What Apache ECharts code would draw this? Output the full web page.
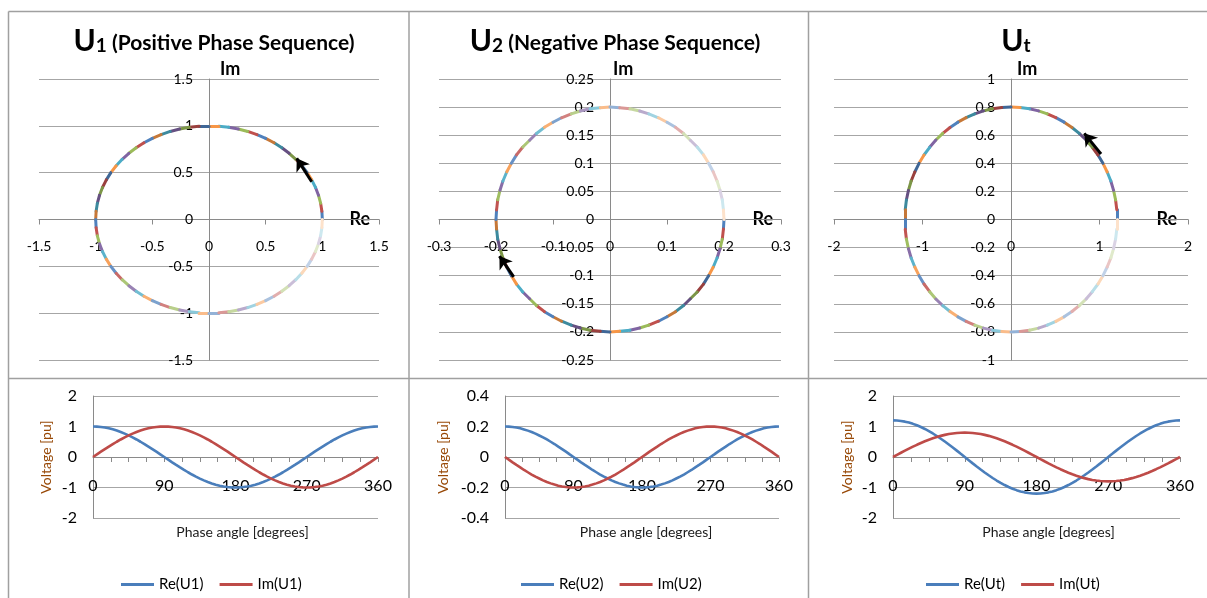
<!DOCTYPE html>
<html><head><meta charset="utf-8">
<script src="https://cdn.jsdelivr.net/npm/echarts@6/dist/echarts.min.js"></script>
<style>html,body{margin:0;padding:0;background:#fff}#c{width:1207px;height:598px}</style>
</head><body><div id="c"></div>
<script>
// ---- data ----
const angles = [0,5,10,15,20,25,30,35,40,45,50,55,60,65,70,75,80,85,90,
 95,100,105,110,115,120,125,130,135,140,145,150,155,160,165,170,175,180,
 185,190,195,200,205,210,215,220,225,230,235,240,245,250,255,260,265,270,
 275,280,285,290,295,300,305,310,315,320,325,330,335,340,345,350,355,360];

const reU1 = [1,0.996,0.985,0.966,0.94,0.906,0.866,0.819,0.766,0.707,0.643,0.574,0.5,0.423,0.342,0.259,0.174,0.087,0,
 -0.087,-0.174,-0.259,-0.342,-0.423,-0.5,-0.574,-0.643,-0.707,-0.766,-0.819,-0.866,-0.906,-0.94,-0.966,-0.985,-0.996,-1,
 -0.996,-0.985,-0.966,-0.94,-0.906,-0.866,-0.819,-0.766,-0.707,-0.643,-0.574,-0.5,-0.423,-0.342,-0.259,-0.174,-0.087,0,
 0.087,0.174,0.259,0.342,0.423,0.5,0.574,0.643,0.707,0.766,0.819,0.866,0.906,0.94,0.966,0.985,0.996,1];
const imU1 = [0,0.087,0.174,0.259,0.342,0.423,0.5,0.574,0.643,0.707,0.766,0.819,0.866,0.906,0.94,0.966,0.985,0.996,1,
 0.996,0.985,0.966,0.94,0.906,0.866,0.819,0.766,0.707,0.643,0.574,0.5,0.423,0.342,0.259,0.174,0.087,0,
 -0.087,-0.174,-0.259,-0.342,-0.423,-0.5,-0.574,-0.643,-0.707,-0.766,-0.819,-0.866,-0.906,-0.94,-0.966,-0.985,-0.996,-1,
 -0.996,-0.985,-0.966,-0.94,-0.906,-0.866,-0.819,-0.766,-0.707,-0.643,-0.574,-0.5,-0.423,-0.342,-0.259,-0.174,-0.087,0];

const reU2 = [0.2,0.199,0.197,0.193,0.188,0.181,0.173,0.164,0.153,0.141,0.129,0.115,0.1,0.085,0.068,0.052,0.035,0.017,0,
 -0.017,-0.035,-0.052,-0.068,-0.085,-0.1,-0.115,-0.129,-0.141,-0.153,-0.164,-0.173,-0.181,-0.188,-0.193,-0.197,-0.199,-0.2,
 -0.199,-0.197,-0.193,-0.188,-0.181,-0.173,-0.164,-0.153,-0.141,-0.129,-0.115,-0.1,-0.085,-0.068,-0.052,-0.035,-0.017,0,
 0.017,0.035,0.052,0.068,0.085,0.1,0.115,0.129,0.141,0.153,0.164,0.173,0.181,0.188,0.193,0.197,0.199,0.2];
const imU2 = [0,-0.017,-0.035,-0.052,-0.068,-0.085,-0.1,-0.115,-0.129,-0.141,-0.153,-0.164,-0.173,-0.181,-0.188,-0.193,-0.197,-0.199,-0.2,
 -0.199,-0.197,-0.193,-0.188,-0.181,-0.173,-0.164,-0.153,-0.141,-0.129,-0.115,-0.1,-0.085,-0.068,-0.052,-0.035,-0.017,0,
 0.017,0.035,0.052,0.068,0.085,0.1,0.115,0.129,0.141,0.153,0.164,0.173,0.181,0.188,0.193,0.197,0.199,0.2,
 0.199,0.197,0.193,0.188,0.181,0.173,0.164,0.153,0.141,0.129,0.115,0.1,0.085,0.068,0.052,0.035,0.017,0];

const reUt = [1.2,1.195,1.182,1.159,1.128,1.087,1.039,0.983,0.919,0.849,0.771,0.689,0.6,0.507,0.41,0.311,0.209,0.104,0,
 -0.104,-0.209,-0.311,-0.41,-0.507,-0.6,-0.689,-0.771,-0.849,-0.919,-0.983,-1.039,-1.087,-1.128,-1.159,-1.182,-1.195,-1.2,
 -1.195,-1.182,-1.159,-1.128,-1.087,-1.039,-0.983,-0.919,-0.849,-0.771,-0.689,-0.6,-0.507,-0.41,-0.311,-0.209,-0.104,0,
 0.104,0.209,0.311,0.41,0.507,0.6,0.689,0.771,0.849,0.919,0.983,1.039,1.087,1.128,1.159,1.182,1.195,1.2];
const imUt = [0,0.07,0.139,0.207,0.274,0.338,0.4,0.459,0.514,0.566,0.613,0.655,0.693,0.725,0.752,0.773,0.788,0.797,0.8,
 0.797,0.788,0.773,0.752,0.725,0.693,0.655,0.613,0.566,0.514,0.459,0.4,0.338,0.274,0.207,0.139,0.07,0,
 -0.07,-0.139,-0.207,-0.274,-0.338,-0.4,-0.459,-0.514,-0.566,-0.613,-0.655,-0.693,-0.725,-0.752,-0.773,-0.788,-0.797,-0.8,
 -0.797,-0.788,-0.773,-0.752,-0.725,-0.693,-0.655,-0.613,-0.566,-0.514,-0.459,-0.4,-0.338,-0.274,-0.207,-0.139,-0.07,0];

// rotation arrows (tail, head) in data units
const arrowU1 = [[0.906,0.403],[0.774,0.653]];
const arrowU2 = [[-0.169,-0.102],[-0.194,-0.065]];
const arrowUt = [[1.017,0.466],[0.828,0.613]];

const seriesNames = [['Re(U1)','Im(U1)'],['Re(U2)','Im(U2)'],['Re(Ut)','Im(Ut)']];
const titleSubs = ['1','2','t'];
const titleRests = [' (Positive Phase Sequence)',' (Negative Phase Sequence)',''];

// ---- styling ----
const FONT = 'Lato, "Open Sans", sans-serif';
const base = ['#4F81BD','#C0504D','#9BBB59','#8064A2','#4BACC6','#F79646'];
function shade(h, t){
  const n = parseInt(h.slice(1),16);
  const c = [n>>16&255, n>>8&255, n&255].map(v => t>=0 ? Math.round(v+(255-v)*t) : Math.round(v*(1+t)));
  return 'rgb('+c.join(',')+')';
}
function segColor(i, n){
  const f = i/n;
  const t = f < 0.5 ? ((Math.floor(i/6)%2) ? -0.2 : 0) : Math.min(0.72, (f-0.5)*1.55);
  return shade(base[i%6], t);
}
function segments(re, im){
  const out = [];
  for (let i=0;i<re.length-1;i++){
    out.push({coords:[[re[i],im[i]],[re[i+1],im[i+1]]], lineStyle:{color:segColor(i, re.length-1)}});
  }
  return out;
}

const panels = [
  {re:reU1, im:imU1, arrow:arrowU1, x:[-1.5,1.5,0.5], y:[-1.5,1.5,0.5], by:[-2,2,1],
   grid:{left:39,top:79,width:340,height:281}, bgrid:{left:93,top:396,width:285,height:122},
   imPad:11, reGap:-9, rePadB:19, vGap:40, xnPad:14, legLeft:116},
  {re:reU2, im:imU2, arrow:arrowU2, x:[-0.3,0.3,0.1], y:[-0.25,0.25,0.05], by:[-0.4,0.4,0.2],
   grid:{left:439,top:79,width:342,height:281}, bgrid:{left:505,top:396,width:274,height:122},
   imPad:3, reGap:-8, rePadB:23, vGap:55, xnPad:8, legLeft:516},
  {re:reUt, im:imUt, arrow:arrowUt, x:[-2,2,1], y:[-1,1,0.2], by:[-2,2,1],
   grid:{left:834,top:79,width:354,height:281}, bgrid:{left:893,top:396,width:287,height:122},
   imPad:6, reGap:-11, rePadB:9, vGap:39, xnPad:24, legLeft:921}
];

const AXIS = '#8a8a8a', GRIDC = '#a6a6a6';
const grid=[], xAxis=[], yAxis=[], series=[], legend=[], title=[];

panels.forEach((p, k) => {
  const gi = grid.length;
  grid.push(p.grid);
  // axes cross at the origin (middle of the plot): shift each axis inward
  xAxis.push({gridIndex:gi, type:'value', min:p.x[0], max:p.x[1], interval:p.x[2],
    position:'bottom', offset:-p.grid.height/2,
    name:'Re', nameLocation:'end', nameGap:p.reGap,
    nameTextStyle:{fontFamily:FONT, fontWeight:'bold', fontSize:18, color:'#000', align:'right', verticalAlign:'middle', padding:[0,0,p.rePadB,0]},
    axisLine:{onZero:false, lineStyle:{color:AXIS, width:1}},
    axisTick:{show:true, length:5, lineStyle:{color:AXIS}},
    splitLine:{show:false},
    axisLabel:{fontFamily:FONT, fontSize:14, color:'#000', margin:20}});
  yAxis.push({gridIndex:gi, type:'value', min:p.y[0], max:p.y[1], interval:p.y[2],
    position:'left', offset:-p.grid.width/2,
    name:'Im', nameLocation:'end', nameGap:1,
    nameTextStyle:{fontFamily:FONT, fontWeight:'bold', fontSize:18, color:'#000', align:'left', verticalAlign:'bottom', padding:[0,0,0,p.imPad]},
    axisLine:{onZero:false, lineStyle:{color:AXIS, width:1}},
    axisTick:{show:false},
    splitLine:{show:true, lineStyle:{color:GRIDC, width:1}},
    axisLabel:{fontFamily:FONT, fontSize:14, color:'#000', margin:16}});
  series.push({type:'lines', coordinateSystem:'cartesian2d', xAxisIndex:gi, yAxisIndex:gi, silent:true,
    lineStyle:{width:3, opacity:1, cap:'round'}, data:segments(p.re, p.im), z:3});
  series.push({type:'lines', coordinateSystem:'cartesian2d', xAxisIndex:gi, yAxisIndex:gi, silent:true,
    symbol:['none','arrow'], symbolSize:12,
    lineStyle:{width:3, color:'#000', opacity:1}, data:[{coords:p.arrow}], z:4});
  title.push({text:'{u|U}{s|'+titleSubs[k]+'}{r|'+titleRests[k]+'}', left:p.grid.left+p.grid.width/2, top:21, textAlign:'center',
    textStyle:{rich:{
      u:{fontFamily:FONT, fontWeight:'bold', fontSize:30, color:'#000', verticalAlign:'bottom'},
      s:{fontFamily:FONT, fontWeight:'bold', fontSize:19, color:'#000', verticalAlign:'bottom', padding:[0,0,1,0]},
      r:{fontFamily:FONT, fontWeight:'bold', fontSize:21, color:'#000', verticalAlign:'bottom', padding:[0,0,2,0]}}}});
});

panels.forEach((p, k) => {
  const gi = grid.length;
  grid.push(p.bgrid);
  xAxis.push({gridIndex:gi, type:'value', min:0, max:360, interval:90,
    position:'bottom', offset:-p.bgrid.height/2,
    name:'Phase angle [degrees]', nameLocation:'middle', nameGap:68,
    nameTextStyle:{fontFamily:FONT, fontSize:14, color:'#1a1a1a', padding:[0,0,0,p.xnPad]},
    axisLine:{onZero:false, lineStyle:{color:AXIS, width:1}},
    axisTick:{show:true, length:5, lineStyle:{color:AXIS}},
    minorTick:{show:true, splitNumber:4, length:5, lineStyle:{color:AXIS}},
    splitLine:{show:false},
    axisLabel:{fontFamily:FONT, fontSize:16, color:'#000', margin:21}});
  yAxis.push({gridIndex:gi, type:'value', min:p.by[0], max:p.by[1], interval:p.by[2],
    name:'Voltage [pu]', nameLocation:'middle', nameGap:p.vGap,
    nameTextStyle:{fontFamily:FONT, fontSize:14, color:'#974806'},
    axisLine:{onZero:false, lineStyle:{color:AXIS, width:1}},
    axisTick:{show:false},
    splitLine:{show:true, lineStyle:{color:GRIDC, width:1}},
    axisLabel:{fontFamily:FONT, fontSize:16, color:'#000', margin:16}});
  const names = seriesNames[k];
  series.push({type:'line', name:names[0], xAxisIndex:gi, yAxisIndex:gi, symbol:'none',
    lineStyle:{width:2.6, color:'#4A7EBB'}, itemStyle:{color:'#4A7EBB'},
    data:angles.map((a,i)=>[a, p.re[i]])});
  series.push({type:'line', name:names[1], xAxisIndex:gi, yAxisIndex:gi, symbol:'none',
    lineStyle:{width:2.6, color:'#BE4B48'}, itemStyle:{color:'#BE4B48'},
    data:angles.map((a,i)=>[a, p.im[i]])});
  legend.push({data:names.map(n=>({name:n, icon:'rect'})), left:p.legLeft, top:572, itemWidth:33, itemHeight:3, itemGap:16,
    textStyle:{fontFamily:FONT, fontSize:15, color:'#000'}});
});

const FR = '#a0a0a0';
const graphic = [
  {type:'line', shape:{x1:8.5,y1:11.5,x2:1207,y2:11.5}, style:{stroke:FR, lineWidth:1.5}},
  {type:'line', shape:{x1:8.5,y1:378.5,x2:1207,y2:378.5}, style:{stroke:FR, lineWidth:1.5}},
  {type:'line', shape:{x1:8.5,y1:11.5,x2:8.5,y2:598}, style:{stroke:FR, lineWidth:1.5}},
  {type:'line', shape:{x1:409,y1:11.5,x2:409,y2:598}, style:{stroke:FR, lineWidth:1.5}},
  {type:'line', shape:{x1:808.5,y1:11.5,x2:808.5,y2:598}, style:{stroke:FR, lineWidth:1.5}}
];

const chart = echarts.init(document.getElementById('c'), null, {renderer:'canvas'});
chart.setOption({animation:false, backgroundColor:'#fff', title, grid, xAxis, yAxis, series, legend, graphic});
</script></body></html>
